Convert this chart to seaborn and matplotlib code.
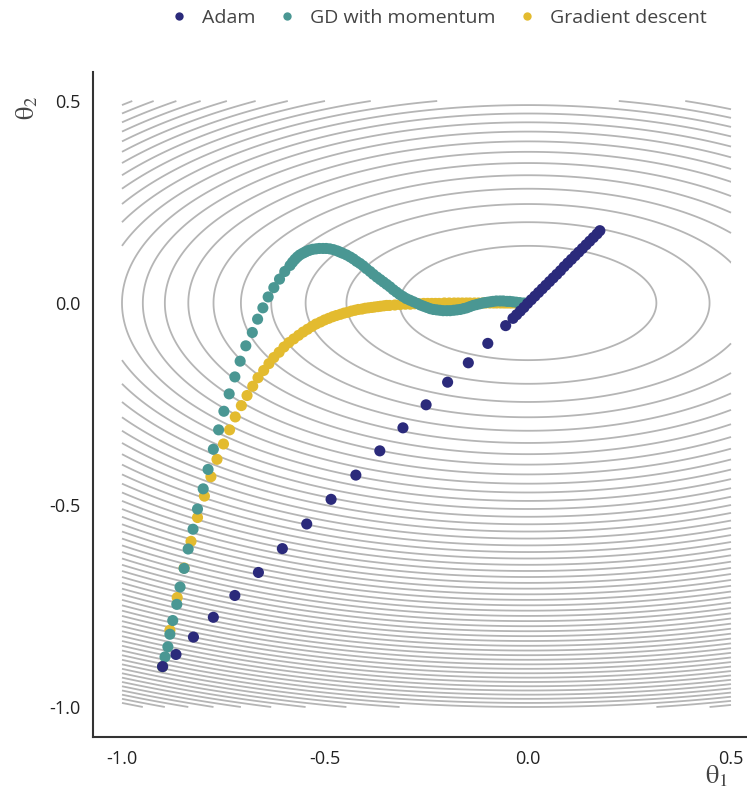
import numpy as np
import pandas as pd
import matplotlib
matplotlib.use("Agg")
import matplotlib.pyplot as plt
import seaborn as sns

sns.set_theme(style="white")
plt.rcParams["font.family"] = ["Open Sans", "DejaVu Sans"]
plt.rcParams["mathtext.fontset"] = "stix"
plt.rcParams["axes.unicode_minus"] = False

series_names = ["Adam", "GD with momentum", "Gradient descent"]
series_colors = ["#2b2a7b", "#4a9793", "#e3bb2f"]

# Gradient descent path
gd_x = [-0.900, -0.882, -0.864, -0.847, -0.830, -0.814, -0.797, -0.781, -0.766, -0.750,
        -0.735, -0.721, -0.706, -0.692, -0.678, -0.665, -0.651, -0.638, -0.626, -0.613,
        -0.601, -0.589, -0.577, -0.565, -0.554, -0.543, -0.532, -0.522, -0.511, -0.501,
        -0.491, -0.481, -0.472, -0.462, -0.453, -0.444, -0.435, -0.426, -0.418, -0.409,
        -0.401, -0.393, -0.385, -0.378, -0.370, -0.363, -0.355, -0.348, -0.341, -0.328,
        -0.315, -0.302, -0.290, -0.279, -0.268, -0.257, -0.247, -0.237, -0.228, -0.219,
        -0.206, -0.194, -0.182, -0.172, -0.162, -0.152, -0.143, -0.132, -0.122, -0.112,
        -0.104, -0.094, -0.085, -0.077, -0.068, -0.060, -0.053, -0.046, -0.040, -0.032,
        -0.026]
gd_y = [-0.900, -0.810, -0.729, -0.656, -0.590, -0.531, -0.478, -0.430, -0.387, -0.349,
        -0.314, -0.282, -0.254, -0.229, -0.206, -0.185, -0.167, -0.150, -0.135, -0.122,
        -0.109, -0.098, -0.089, -0.080, -0.072, -0.065, -0.058, -0.052, -0.047, -0.042,
        -0.038, -0.034, -0.031, -0.028, -0.025, -0.023, -0.020, -0.018, -0.016, -0.015,
        -0.013, -0.012, -0.011, -0.010, -0.009, -0.008, -0.007, -0.006, -0.006, -0.005,
        -0.004, -0.003, -0.003, -0.002, -0.002, -0.001, -0.001, -0.001, -0.001, -0.001,
        0.000, 0.000, 0.000, 0.000, 0.000, 0.000, 0.000, 0.000, 0.000, 0.000,
        0.000, 0.000, 0.000, 0.000, 0.000, 0.000, 0.000, 0.000, 0.000, 0.000,
        0.000]

# GD with momentum path
mom_x = [-0.900, -0.894, -0.887, -0.882, -0.875, -0.865, -0.857, -0.847, -0.837, -0.825,
         -0.814, -0.800, -0.788, -0.775, -0.762, -0.749, -0.736, -0.722, -0.709, -0.695,
         -0.679, -0.666, -0.653, -0.640, -0.626, -0.612, -0.599,
         -0.586, -0.580, -0.574, -0.568, -0.562, -0.555, -0.549, -0.543, -0.537, -0.530,
         -0.522, -0.514, -0.505, -0.497, -0.488, -0.479, -0.470, -0.463, -0.456, -0.447,
         -0.438, -0.430, -0.422, -0.414, -0.406, -0.398, -0.389, -0.381, -0.372, -0.364,
         -0.356, -0.348, -0.340, -0.332, -0.324, -0.316, -0.308, -0.300, -0.291, -0.282,
         -0.273, -0.265, -0.257, -0.249, -0.241, -0.233, -0.225, -0.217, -0.209, -0.200,
         -0.192, -0.183, -0.175, -0.167, -0.159, -0.151, -0.143, -0.135, -0.127, -0.119,
         -0.111, -0.105, -0.099, -0.092, -0.086, -0.078, -0.069, -0.061, -0.052, -0.045,
         -0.037, -0.029, -0.020, -0.010, -0.002]
mom_y = [-0.900, -0.876, -0.851, -0.820, -0.786, -0.746, -0.703, -0.657, -0.609, -0.560,
         -0.510, -0.460, -0.412, -0.362, -0.314, -0.268, -0.225, -0.183, -0.144, -0.106,
         -0.073, -0.040, -0.012, 0.015, 0.038, 0.059, 0.078,
         0.093, 0.101, 0.108, 0.114, 0.119, 0.123, 0.126, 0.129, 0.131, 0.133,
         0.134, 0.135, 0.135, 0.135, 0.134, 0.132, 0.129, 0.126, 0.123, 0.119,
         0.114, 0.109, 0.103, 0.098, 0.092, 0.085, 0.078, 0.071, 0.064, 0.058,
         0.052, 0.046, 0.040, 0.033, 0.027, 0.021, 0.016, 0.011, 0.007, 0.003,
         -0.001, -0.005, -0.008, -0.011, -0.014, -0.016, -0.017, -0.018, -0.019, -0.019,
         -0.019, -0.018, -0.017, -0.016, -0.014, -0.012, -0.009, -0.006, -0.004, -0.002,
         0.000, 0.001, 0.002, 0.003, 0.004, 0.005, 0.005, 0.005, 0.004, 0.004,
         0.003, 0.002, 0.001, 0.000, 0.000]

# Adam path
adam_x = [-0.900, -0.867, -0.824, -0.775, -0.722, -0.664, -0.605, -0.545, -0.485, -0.424,
          -0.365, -0.308, -0.251, -0.198, -0.147, -0.099, -0.055,
          -0.037, -0.028, -0.019, -0.010, -0.001, 0.008, 0.017, 0.026, 0.035, 0.044,
          0.053, 0.062, 0.071, 0.080, 0.089, 0.098, 0.107, 0.116, 0.125, 0.134,
          0.143, 0.152, 0.161, 0.170, 0.177]
adam_y = [-0.900, -0.870, -0.827, -0.778, -0.724, -0.667, -0.608, -0.547, -0.486, -0.426,
          -0.366, -0.309, -0.252, -0.196, -0.148, -0.100, -0.056,
          -0.038, -0.029, -0.020, -0.011, -0.001, 0.008, 0.017, 0.026, 0.035, 0.044,
          0.053, 0.062, 0.071, 0.080, 0.090, 0.099, 0.108, 0.117, 0.126, 0.135,
          0.144, 0.153, 0.162, 0.171, 0.179]

# Loss surface f = a*theta1^2 + b*theta2^2 drawn as contour background
loss_coef = [1.0, 5.0]
grid_t1 = [-1.0, 0.5]
grid_t2 = [-1.0, 0.5]
contour_levels = np.arange(0.1, 6.05, 0.1)

x_ticks = [-1.0, -0.5, 0.0, 0.5]
y_ticks = [-1.0, -0.5, 0.0, 0.5]
x_tick_labels = ["-1.0", "-0.5", "0.0", "0.5"]
y_tick_labels = ["-1.0", "-0.5", "0.0", "0.5"]

frames = []
for name, xs, ys in [("Gradient descent", gd_x, gd_y),
                     ("GD with momentum", mom_x, mom_y),
                     ("Adam", adam_x, adam_y)]:
    frames.append(pd.DataFrame({"theta1": xs, "theta2": ys, "optimizer": name}))
df = pd.concat(frames, ignore_index=True)

W, H = 747, 792
fig = plt.figure(figsize=(W / 100, H / 100), dpi=100)
ax = fig.add_axes([93 / W, (H - 737) / H, (747 - 93) / W, (737 - 72) / H])

g1 = np.linspace(grid_t1[0], grid_t1[1], 301)
g2 = np.linspace(grid_t2[0], grid_t2[1], 301)
T1, T2 = np.meshgrid(g1, g2)
Z = loss_coef[0] * T1 ** 2 + loss_coef[1] * T2 ** 2
ax.contour(T1, T2, Z, levels=contour_levels, colors="#b5b5b5", linewidths=1.3, zorder=1)

sns.scatterplot(data=df, x="theta1", y="theta2", hue="optimizer",
                hue_order=series_names, palette=series_colors,
                s=64, linewidth=0, ax=ax, zorder=3)

ax.set_xlim(-1.0714, 0.5394)
ax.set_ylim(-1.0743, 0.5718)
ax.set_xticks(x_ticks)
ax.set_xticklabels(x_tick_labels)
ax.set_yticks(y_ticks)
ax.set_yticklabels(y_tick_labels)
ax.tick_params(axis="both", length=0, labelsize=13, colors="#222222", pad=9)

for side in ["top", "right"]:
    ax.spines[side].set_visible(False)
for side in ["left", "bottom"]:
    ax.spines[side].set_color("#333333")
    ax.spines[side].set_linewidth(1.5)

ax.set_xlabel(r"$\mathrm{θ}_1$", fontsize=19, color="#444444")
ax.set_ylabel(r"$\mathrm{θ}_2$", fontsize=19, color="#444444")
ax.xaxis.set_label_coords(0.954, -0.040)
ax.yaxis.set_label_coords(-0.080, 0.946)

sns.move_legend(ax, "center", bbox_to_anchor=(0.586, 0.977),
                bbox_transform=fig.transFigure, ncol=3, frameon=False,
                title=None, fontsize=14, markerscale=0.75,
                handlelength=1.0, handletextpad=0.7, columnspacing=1.1)
for t in ax.get_legend().get_texts():
    t.set_color("#444444")

fig.savefig("out.png", dpi=100)
